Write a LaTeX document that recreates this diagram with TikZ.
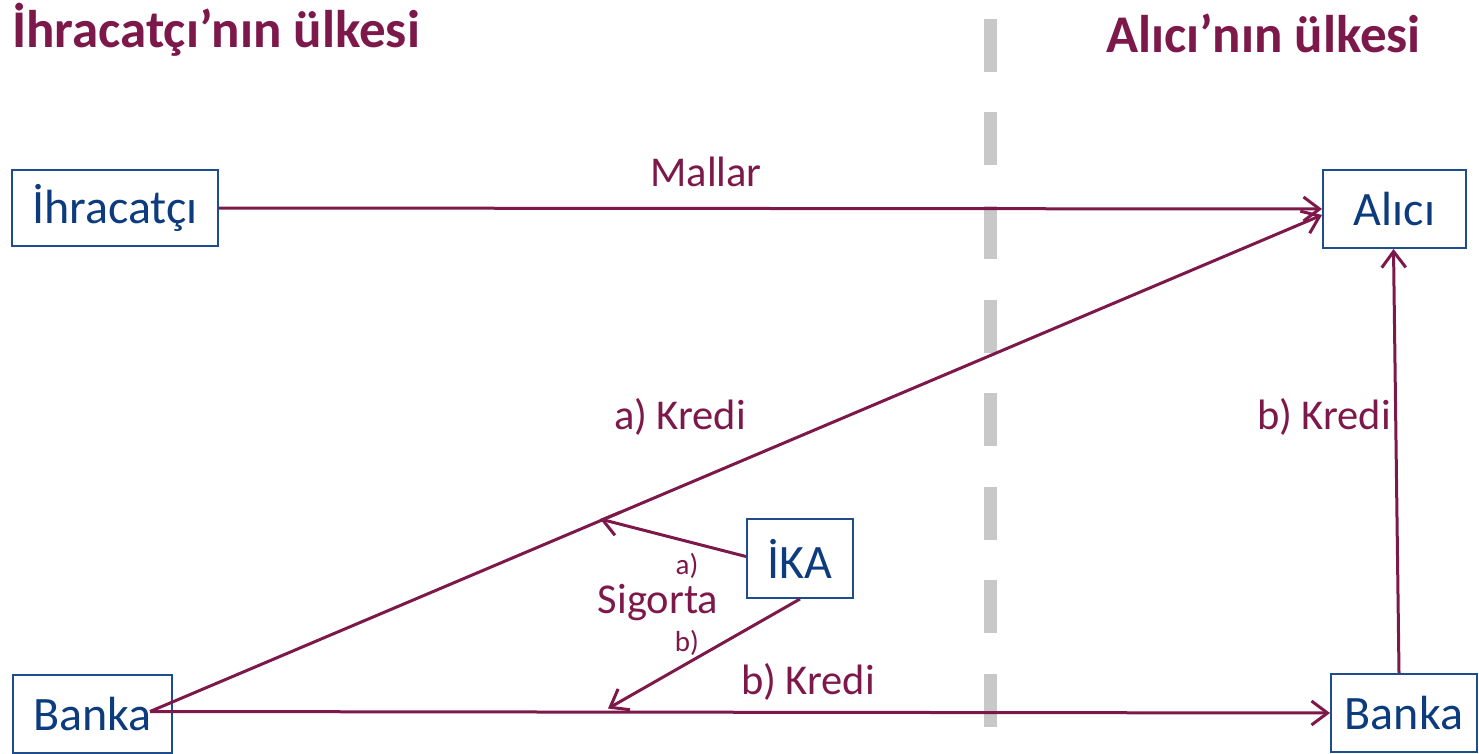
\documentclass[tikz,border=0pt]{standalone}
\usepackage{fontspec}
\setmainfont{Carlito}
\usetikzlibrary{arrows.meta}
\definecolor{maroon}{RGB}{125,25,74}
\definecolor{boxblue}{RGB}{30,76,140}
\definecolor{txtblue}{RGB}{12,60,125}
\definecolor{dashgray}{RGB}{200,200,200}
\tikzset{
  boxnode/.style={draw=boxblue, line width=2pt, text=txtblue, inner sep=0pt,
    font=\fontsize{48}{52}\selectfont},
  flow/.style={draw=maroon, line width=3pt, -{Straight Barb[length=16pt,width=24pt,line width=3pt]}},
  lbl/.style={text=maroon, inner sep=0pt, font=\fontsize{42.5}{46}\selectfont},
  smalllbl/.style={text=maroon, inner sep=0pt, font=\fontsize{29}{32}\selectfont},
  titlelbl/.style={text=maroon, inner sep=0pt, font=\fontsize{53}{58}\selectfont\bfseries}
}
\begin{document}
\begin{tikzpicture}[x=1pt,y=-1pt]
\useasboundingbox (0,0) rectangle (1479,754);
% border line
\draw[dashgray, line width=13pt, dash pattern=on 53pt off 40.5pt] (990,19) -- (990,730);
% titles
\node[titlelbl, anchor=base west] (t1) at (12,48) {İhracatçı’nın ülkesi};
\node[titlelbl, anchor=base east] (t2) at (1421,53) {Alıcı’nın ülkesi};
% boxes
\node[boxnode, minimum width=206pt, minimum height=76pt] (ihr) at (115,208) {İhracatçı};
\node[boxnode, minimum width=143pt, minimum height=78pt] (alici) at (1394.5,209) {Alıcı};
\node[boxnode, minimum width=106pt, minimum height=79pt] (ika) at (800,558.5) {İKA};
\node[boxnode, minimum width=159pt, minimum height=78pt] (bankaL) at (92.5,714) {Banka};
\node[boxnode, minimum width=146pt, minimum height=78pt] (bankaR) at (1404,713) {Banka};
% helper coordinates
\coordinate (bl) at (150,711.5);
\coordinate (ka) at (600,519);
\coordinate (kb) at (608,708.5);
% connectors
\draw[flow] (ihr.east) -- (alici.west);
\draw[flow] (bl) -- ([yshift=-6pt]alici.west);
\draw[flow] (bl) -- (bankaR.west);
\draw[flow] ([xshift=-5pt]bankaR.north) -- ([xshift=-1pt]alici.south);
\draw[flow] ([yshift=2pt]ika.west) -- (ka);
\draw[flow] (ika.south) -- (kb);
% labels
\node[lbl] (mallar) at (706,172) {Mallar};
\node[lbl] (akredi) at (680,417) {a) Kredi};
\node[lbl] (bkrediR) at (1324,417) {b) Kredi};
\node[lbl] (bkrediB) at (808,682) {b) Kredi};
\node[smalllbl] (sa) at (687,566) {a)};
\node[lbl] (sig) at (658,603) {Sigorta};
\node[smalllbl] (sb) at (687,643) {b)};
\end{tikzpicture}
\end{document}
